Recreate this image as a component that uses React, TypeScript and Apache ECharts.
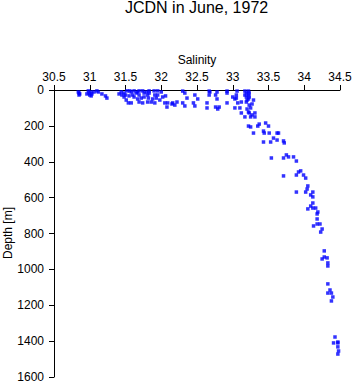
import React, { useEffect, useRef } from "react";
import * as echarts from "echarts";

const title = "JCDN in June, 1972";
const xName = "Salinity";
const yName = "Depth [m]";
const salinityTicks = [30.5, 31, 31.5, 32, 32.5, 33, 33.5, 34, 34.5];
const depthTicks = [0, 200, 400, 600, 800, 1000, 1200, 1400, 1600];

// [salinity, depth]
const nearSurface31: number[][] = [
  [30.84, 11], [30.85, 17], [30.86, 22], [30.85, 28], [30.98, 5], [30.99, 17],
  [31.02, 11], [31.0, 28], [31.03, 22], [31.02, 33], [30.96, 22], [31.06, 11],
  [31.1, 5], [31.12, 11], [31.17, 22], [31.22, 33], [31.24, 45],
];

const nearSurface32: number[][] = [
  [31.41, 22], [31.44, 11], [31.45, 28], [31.48, 17], [31.48, 39], [31.51, 56],
  [31.54, 72], [31.58, 72], [31.58, 11], [31.6, 28], [31.65, 17], [31.67, 11],
  [31.69, 28], [31.72, 45], [31.69, 67], [31.74, 72], [31.76, 17], [31.79, 11],
  [31.81, 28], [31.83, 17], [31.82, 45], [31.81, 67], [31.86, 67], [31.91, 72],
  [31.93, 45], [31.91, 28], [31.95, 28], [32.0, 11], [32.02, 39], [31.98, 56],
  [32.06, 33], [32.05, 72], [32.09, 72], [32.08, 95], [32.15, 78], [32.16, 72],
  [32.19, 84], [32.22, 67], [31.52, 5], [31.56, 5], [31.62, 5], [31.69, 5],
  [31.74, 5], [31.83, 5], [31.9, 5], [31.95, 5], [31.62, 39], [31.76, 39],
  [31.88, 50], [31.55, 33], [31.67, 50], [31.5, 28],
];

const nearSurface33: number[][] = [
  [32.3, 6], [32.33, 17], [32.36, 45], [32.3, 72], [32.33, 89], [32.47, 28],
  [32.51, 50], [32.45, 72], [32.47, 89], [32.64, 72], [32.64, 100], [32.67, 6],
  [32.67, 28], [32.68, 11], [32.78, 11], [32.76, 28], [32.78, 50], [32.76, 95],
  [32.79, 106], [32.81, 95],
  [32.92, 6], [32.92, 17], [32.92, 72], [33.0, 39], [33.03, 50], [33.06, 6],
  [33.05, 28], [33.05, 45], [33.07, 72], [33.03, 100], [33.1, 100], [33.12, 128],
  [33.12, 67], [33.17, 6], [33.22, 6], [33.17, 28], [33.22, 28], [33.2, 56],
  [33.22, 50], [33.27, 78], [33.29, 56], [33.25, 100], [33.2, 106], [33.22, 123],
  [33.23, 128], [33.27, 139], [33.31, 128], [33.25, 150], [33.17, 150], [33.31, 150],
  [33.19, 17], [33.23, 17], [33.19, 39], [33.23, 39], [33.19, 67], [33.23, 84],
];

const thermocline: number[][] = [
  [33.22, 201], [33.25, 206], [33.35, 201], [33.37, 190], [33.46, 184], [33.5, 201],
  [33.29, 240], [33.43, 229], [33.44, 240], [33.51, 240], [33.62, 240], [33.64, 240],
  [33.43, 290], [33.53, 290], [33.57, 268], [33.62, 279], [33.71, 284], [33.72, 295],
  [33.75, 362], [33.78, 373], [33.85, 373], [33.89, 396], [33.54, 379], [33.71, 379],
  [33.71, 479], [33.89, 474], [33.92, 457], [33.95, 451], [33.99, 474], [34.02, 491],
];

const deepWater: number[][] = [
  [34.05, 535], [34.04, 552], [34.02, 569], [34.12, 569], [34.09, 585], [34.12, 596],
  [33.89, 569], [34.12, 630], [34.09, 647], [34.12, 658], [34.16, 658], [34.05, 663],
  [34.19, 680], [34.18, 691], [34.18, 719], [34.18, 747], [34.22, 747], [34.13, 758],
  [34.25, 775], [34.23, 792], [34.28, 897], [34.28, 931], [34.32, 936], [34.25, 942],
  [34.33, 964], [34.33, 981], [34.33, 1081], [34.36, 1115], [34.33, 1132], [34.38, 1132],
  [34.4, 1154], [34.38, 1176], [34.43, 1377], [34.47, 1405], [34.41, 1410], [34.47, 1410],
  [34.47, 1432], [34.48, 1455], [34.47, 1472],
];

const allPoints = [
  ...nearSurface31,
  ...nearSurface32,
  ...nearSurface33,
  ...thermocline,
  ...deepWater,
];

const FONT = "'Liberation Sans', Arial, Helvetica, sans-serif";

export default function App() {
  const ref = useRef<HTMLDivElement>(null);
  useEffect(() => {
    document.body.style.margin = "0";
    if (!ref.current) return;
    const chart = echarts.init(ref.current, null, { renderer: "svg" });
    chart.setOption({
      animation: false,
      backgroundColor: "#ffffff",
      title: {
        text: title,
        left: 125,
        top: -1,
        padding: 0,
        textStyle: { fontFamily: FONT, fontSize: 16, fontWeight: "normal", color: "#000" },
      },
      graphic: [
        {
          type: "text",
          x: 8,
          y: 233,
          rotation: Math.PI / 2,
          style: {
            text: yName,
            align: "center",
            verticalAlign: "middle",
            fontFamily: FONT,
            fontSize: 12,
            fill: "#000",
          },
        },
      ],
      grid: {
        left: 54,
        right: 13,
        top: 90,
        bottom: 7,
        containLabel: false,
        outerBoundsMode: "none",
      },
      xAxis: {
        type: "value",
        position: "top",
        min: salinityTicks[0],
        max: salinityTicks[salinityTicks.length - 1],
        interval: 0.5,
        name: xName,
        nameLocation: "middle",
        nameGap: 23,
        nameTextStyle: { fontFamily: FONT, fontSize: 12, color: "#000" },
        axisLine: { show: true, lineStyle: { color: "#000", width: 1 } },
        axisTick: { show: true, length: 5, lineStyle: { color: "#000" } },
        axisLabel: {
          fontFamily: FONT,
          fontSize: 12,
          color: "#000",
          margin: 7,
          formatter: (v: number) => String(v),
        },
        splitLine: { show: false },
      },
      yAxis: {
        type: "value",
        inverse: true,
        min: depthTicks[0],
        max: depthTicks[depthTicks.length - 1],
        interval: 200,
        axisLine: { show: true, lineStyle: { color: "#000", width: 1 } },
        axisTick: { show: true, length: 5, lineStyle: { color: "#000" } },
        axisLabel: {
          fontFamily: FONT,
          fontSize: 12,
          color: "#000",
          margin: 10,
          formatter: (v: number) => String(v),
        },
        splitLine: { show: false },
      },
      series: [
        {
          type: "scatter",
          data: allPoints,
          symbol: "rect",
          symbolSize: 3.5,
          itemStyle: { color: "#0000ff" },
        },
      ],
    });
    return () => chart.dispose();
  }, []);
  return <div ref={ref} style={{ width: 353, height: 384 }} />;
}
